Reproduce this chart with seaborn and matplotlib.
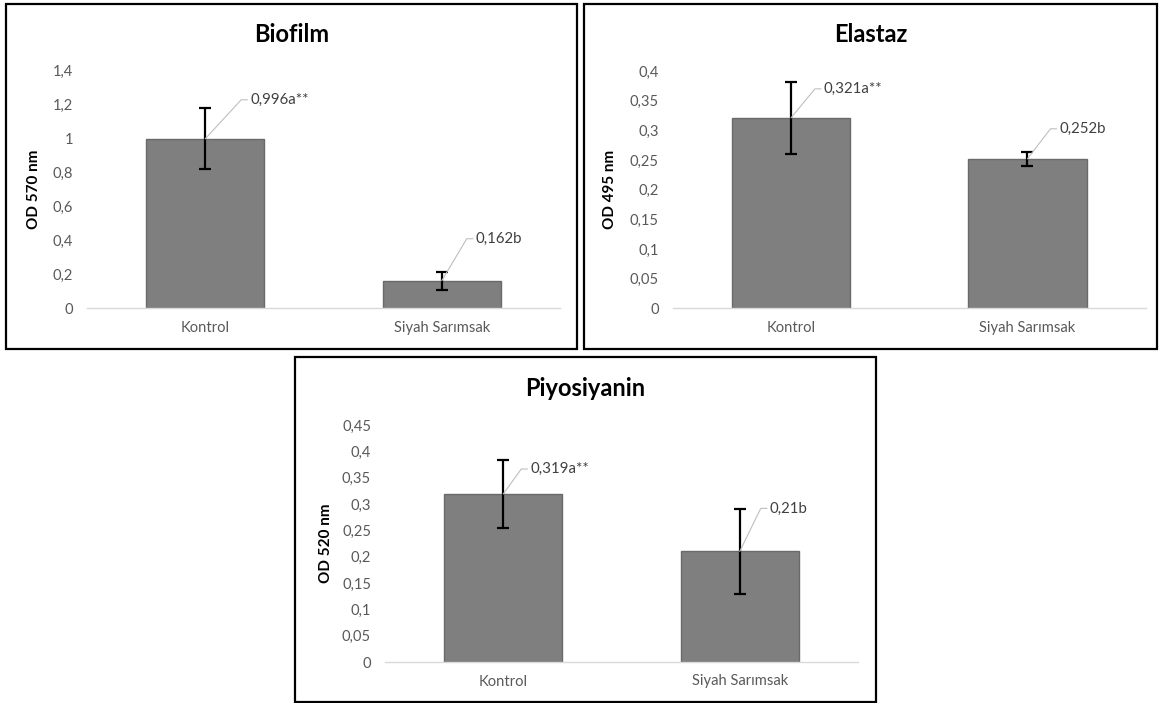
import numpy as np
import pandas as pd
import matplotlib
matplotlib.use("Agg")
import matplotlib.pyplot as plt
import seaborn as sns
from matplotlib.ticker import FuncFormatter, MultipleLocator
from matplotlib.patches import Rectangle


# Data
groups = ["Kontrol", "Siyah Sarımsak"]

biofilm_vals = [0.996, 0.162]
biofilm_err = [0.18, 0.052]
biofilm_lbls = ["0,996a**", "0,162b"]

elastaz_vals = [0.321, 0.252]
elastaz_err = [0.061, 0.012]
elastaz_lbls = ["0,321a**", "0,252b"]

piyo_vals = [0.319, 0.21]
piyo_err = [0.065, 0.08]
piyo_lbls = ["0,319a**", "0,21b"]

W, H = 1159, 703

sns.set_style("white")
plt.rcParams["font.family"] = ["Lato", "DejaVu Sans"]

fig = plt.figure(figsize=(W / 100, H / 100), dpi=100)


def px_rect(x0, y0, x1, y1):
    # pixel box (top-left origin) -> figure fraction [l, b, w, h]
    return [x0 / W, 1 - y1 / H, (x1 - x0) / W, (y1 - y0) / H]


def comma(v, pos):
    s = f"{v:.2f}".rstrip("0").rstrip(".")
    return s.replace(".", ",")


panels = [
    dict(title="Biofilm", ylabel="OD 570 nm", vals=biofilm_vals, err=biofilm_err,
         lbls=biofilm_lbls, ymax=1.4, step=0.2,
         box=(6, 4, 577, 349), ax=(87, 70, 560, 308.3), ylab_x=-0.097,
         offs=[(45, 39), (34, 42)]),
    dict(title="Elastaz", ylabel="OD 495 nm", vals=elastaz_vals, err=elastaz_err,
         lbls=elastaz_lbls, ymax=0.4, step=0.05,
         box=(584, 4, 1157, 349), ax=(672.7, 71, 1145.7, 308.3), ylab_x=-0.118,
         offs=[(33, 29), (32, 30)]),
    dict(title="Piyosiyanin", ylabel="OD 520 nm", vals=piyo_vals, err=piyo_err,
         lbls=piyo_lbls, ymax=0.45, step=0.05,
         box=(295, 357, 876, 702), ax=(385, 425, 858, 662), ylab_x=-0.110,
         offs=[(27, 25), (30, 43)]),
]

for p in panels:
    # panel frame
    x0, y0, x1, y1 = p["box"]
    l, b, w, h = px_rect(x0, y0, x1, y1)
    fig.patches.append(Rectangle((l, b), w, h, transform=fig.transFigure,
                                 fill=False, edgecolor="black", linewidth=1.6))
    fig.text(l + w / 2, 1 - (y0 + 31) / H, p["title"], ha="center", va="center",
             fontsize=17, fontweight="bold", color="black")

    ax = fig.add_axes(px_rect(*p["ax"]))
    df = pd.DataFrame({"group": groups, "value": p["vals"]})
    sns.barplot(data=df, x="group", y="value", color="#7f7f7f", saturation=1,
                width=0.5, edgecolor="#6a6a6a", linewidth=1, errorbar=None, ax=ax)
    ax.errorbar(range(len(groups)), p["vals"], yerr=p["err"], fmt="none",
                ecolor="black", elinewidth=1.6, capsize=4.5, capthick=1.6, zorder=5)

    # data labels with leader lines
    for i, (v, txt) in enumerate(zip(p["vals"], p["lbls"])):
        dx, dy = p["offs"][i]
        ang = np.degrees(np.arctan2(dy, dx - 9))
        ax.annotate(txt, xy=(i, v), xytext=(dx * 0.72, dy * 0.72),
                    textcoords="offset points", ha="left", va="center",
                    fontsize=10.8, color="#404040", zorder=6,
                    arrowprops=dict(arrowstyle="-", color="#bfbfbf", lw=0.8,
                                    relpos=(0, 0.5), patchA=None,
                                    shrinkA=2, shrinkB=0,
                                    connectionstyle=f"angle,angleA=0,angleB={ang:.1f},rad=0"))

    ax.set_ylim(0, p["ymax"])
    ax.set_xlim(-0.5, 1.5)
    ax.yaxis.set_major_locator(MultipleLocator(p["step"]))
    ax.yaxis.set_major_formatter(FuncFormatter(comma))
    ax.tick_params(axis="both", length=0, labelsize=10.6, colors="#595959")
    ax.tick_params(axis="y", pad=10)
    ax.tick_params(axis="x", pad=9)
    ax.set_xlabel("")
    ax.set_ylabel(p["ylabel"], fontsize=11, fontweight="bold", color="black")
    ax.yaxis.set_label_coords(p["ylab_x"], 0.5)
    for s in ["top", "right", "left"]:
        ax.spines[s].set_visible(False)
    ax.spines["bottom"].set_color("#d9d9d9")
    ax.spines["bottom"].set_linewidth(1)
    ax.set_facecolor("white")

fig.savefig("out.png", dpi=100, facecolor="white")
